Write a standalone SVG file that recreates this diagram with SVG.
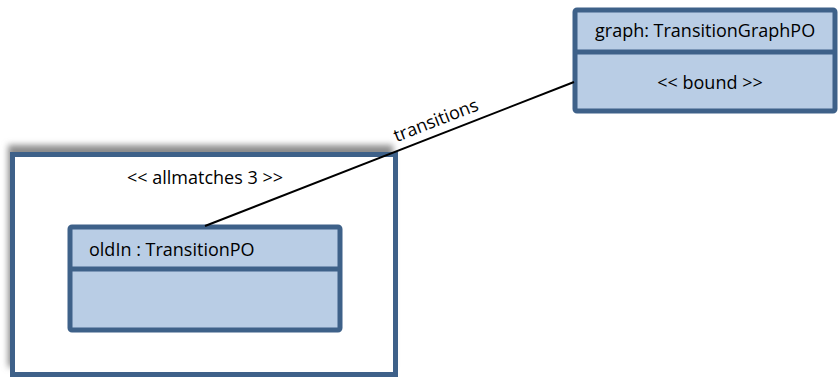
<svg xmlns="http://www.w3.org/2000/svg" width="838" height="377" viewBox="0 0 838 377">
  <defs>
    <filter id="shadow" x="-10%" y="-10%" width="120%" height="120%">
      <feGaussianBlur stdDeviation="3"/>
    </filter>
    <style>
      .frame { fill: #ffffff; stroke: #3e6189; stroke-width: 5; }
      .obj { fill: #b9cde5; stroke: #3e6189; stroke-width: 5; }
      .div { stroke: #3e6189; stroke-width: 5; }
      .lbl { font-family: "Open Sans", "Liberation Sans", Arial, sans-serif; font-size: 18px; fill: #000000; }
      .edge { stroke: #000000; stroke-width: 2; fill: none; }
    </style>
  </defs>

  <!-- allmatches container with soft shadow -->
  <g id="allmatches">
    <rect x="8" y="145" width="385" height="222" fill="#8c8c8c" filter="url(#shadow)"/>
    <rect class="frame" x="12.5" y="154.5" width="383" height="220"/>
    <text class="lbl" x="205" y="184" text-anchor="middle">&lt;&lt; allmatches 3 &gt;&gt;</text>
  </g>

  <!-- oldIn object -->
  <g id="oldIn">
    <rect class="obj" x="70" y="227" width="270" height="103" rx="2"/>
    <line class="div" x1="70" y1="269" x2="340" y2="269"/>
    <text class="lbl" x="89" y="256">oldIn : TransitionPO</text>
  </g>

  <!-- graph object -->
  <g id="graph">
    <rect class="obj" x="575" y="10" width="260" height="101" rx="2"/>
    <line class="div" x1="575" y1="52" x2="835" y2="52"/>
    <text class="lbl" x="595" y="37">graph: TransitionGraphPO</text>
    <text class="lbl" x="710" y="89" text-anchor="middle">&lt;&lt; bound &gt;&gt;</text>
  </g>

  <!-- connectors -->
  <g id="connectors">
    <line class="edge" x1="205" y1="226" x2="574" y2="82"/>
    <text class="lbl" x="438" y="126" text-anchor="middle" transform="rotate(-21.3 438 126)">transitions</text>
  </g>
</svg>
